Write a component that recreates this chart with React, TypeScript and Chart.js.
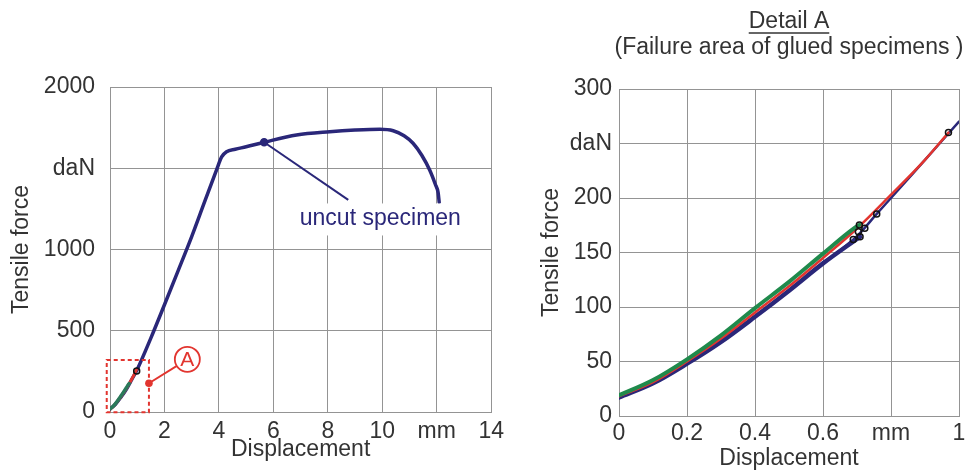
import React, { useEffect, useRef } from "react";
import { Chart, registerables } from "chart.js";

Chart.register(...registerables);

const FONT_FAMILY = "'Liberation Sans', Arial, Helvetica, sans-serif";
const NAVY = "#2a2779";
const RED = "#e2352f";
const GREEN = "#1f8a4c";
const GRID = "#949494";
const TEXT = "#333333";

// ---------- Left chart: full tensile test (mm / daN) ----------
const leftXTickLabels = ["0", "2", "4", "6", "8", "10", "mm", "14"];
const leftYTickLabels = ["0", "500", "1000", "daN", "2000"];

const uncutX = [0, 0.2, 0.4, 0.6, 0.8, 1.0, 1.5, 2.0, 2.5, 3.0, 3.5, 3.91, 4.1, 4.28, 4.6, 5.0, 5.66, 6.85, 8.07, 9.0, 9.91, 10.4, 10.8, 11.13, 11.45, 11.74, 11.95, 12.05, 12.09];
const uncutY = [18, 48, 91, 140, 200, 262, 455, 660, 868, 1079, 1305, 1489, 1570, 1602, 1617, 1632, 1660, 1705, 1725, 1735, 1740, 1731, 1700, 1654, 1580, 1489, 1400, 1350, 1290];

const leftMarkX = [0.98];
const leftMarkY = [252];
const uncutMarkX = [5.66];
const uncutMarkY = [1660];

// ---------- Right chart: Detail A ----------
const rightXTickLabels = ["0", "0.2", "0.4", "0.6", "mm", "1"];
const rightYTickLabels = ["0", "50", "100", "150", "200", "daN", "300"];

const uncutDetailX = [0, 0.1, 0.2, 0.3, 0.4, 0.5, 0.6, 0.7, 0.758, 0.8, 0.9, 1.0];
const uncutDetailY = [17, 30, 48, 68, 91, 115, 140, 165, 185.4, 200, 235, 270];

const gluedNavyX = [0, 0.1, 0.2, 0.3, 0.4, 0.5, 0.6, 0.709];
const gluedNavyY = [17, 30, 48, 68, 91, 115, 140, 164.5];

const gluedRedX = [0, 0.1, 0.2, 0.3, 0.4, 0.5, 0.6, 0.7, 0.8, 0.9, 0.969];
const gluedRedY = [18, 31, 50, 71, 95, 119, 145, 172, 203, 235, 260];

const gluedGreenX = [0, 0.1, 0.2, 0.3, 0.4, 0.5, 0.6, 0.69, 0.707];
const gluedGreenY = [19, 33, 52, 74, 99, 123, 149, 172, 175.3];

const failX = [0.689, 0.704, 0.707, 0.709, 0.723, 0.758, 0.969];
const failY = [162, 169, 175.3, 164.5, 172.2, 185.4, 260];

// ---------- Annotation anchors (data coordinates) ----------
const boxX = [-0.12, 1.43];
const boxY = [-2, 320];
const calloutDot = [1.43, 177];
const calloutCircle = [2.84, 324];
const uncutLeader = [5.66, 1660, 8.75, 1305];
const uncutLabelPos = [6.97, 1191];

const pts = (xs: number[], ys: number[]) => xs.map((x, i) => ({ x, y: ys[i] }));

// Chart.js draws the first dataset on top, so datasets are listed top-most first.
function lineDs(label: string, xs: number[], ys: number[], color: string, width: number) {
  return {
    label,
    data: pts(xs, ys),
    borderColor: color,
    backgroundColor: color,
    borderWidth: width,
    pointRadius: 0,
    fill: false,
    cubicInterpolationMode: "monotone" as const,
    borderCapStyle: "round" as const,
  };
}

function markDs(label: string, xs: number[], ys: number[], border: string, bg: string, r: number) {
  return {
    label,
    data: pts(xs, ys),
    showLine: false,
    borderColor: border,
    backgroundColor: bg,
    pointBorderColor: border,
    pointBackgroundColor: bg,
    pointBorderWidth: 1.5,
    pointRadius: r,
  };
}

function axisFont(size: number) {
  return { family: FONT_FAMILY, size };
}

const leftAnnotations = {
  id: "leftAnnotations",
  afterDatasetsDraw(chart: any) {
    const { ctx, scales } = chart;
    const x = scales.x;
    const y = scales.y;
    const px = (v: number) => x.getPixelForValue(v);
    const py = (v: number) => y.getPixelForValue(v);
    ctx.save();
    // dashed detail box
    ctx.strokeStyle = RED;
    ctx.lineWidth = 2;
    ctx.setLineDash([4, 3]);
    ctx.strokeRect(px(boxX[0]), py(boxY[1]), px(boxX[1]) - px(boxX[0]), py(boxY[0]) - py(boxY[1]));
    ctx.setLineDash([]);
    // callout line + circle "A"
    const dx = px(calloutDot[0]);
    const dy = py(calloutDot[1]);
    const cx = px(calloutCircle[0]);
    const cy = py(calloutCircle[1]);
    const r = 12.5;
    ctx.strokeStyle = RED;
    ctx.lineWidth = 2;
    ctx.beginPath();
    ctx.moveTo(dx, dy);
    ctx.lineTo(cx, cy);
    ctx.stroke();
    ctx.fillStyle = RED;
    ctx.beginPath();
    ctx.arc(dx, dy, 3.8, 0, Math.PI * 2);
    ctx.fill();
    ctx.fillStyle = "#ffffff";
    ctx.beginPath();
    ctx.arc(cx, cy, r, 0, Math.PI * 2);
    ctx.fill();
    ctx.lineWidth = 1.8;
    ctx.stroke();
    ctx.fillStyle = RED;
    ctx.font = `21px ${FONT_FAMILY}`;
    ctx.textAlign = "center";
    ctx.textBaseline = "middle";
    ctx.fillText("A", cx, cy + 1);
    // uncut specimen leader
    ctx.strokeStyle = NAVY;
    ctx.lineWidth = 2;
    ctx.beginPath();
    ctx.moveTo(px(uncutLeader[0]), py(uncutLeader[1]));
    ctx.lineTo(px(uncutLeader[2]), py(uncutLeader[3]));
    ctx.stroke();
    // label with white background
    ctx.font = `23px ${FONT_FAMILY}`;
    const label = "uncut specimen";
    const tw = ctx.measureText(label).width;
    const lx = px(uncutLabelPos[0]);
    const ly = py(uncutLabelPos[1]);
    ctx.fillStyle = "#ffffff";
    ctx.fillRect(lx - 3, ly - 15, tw + 6, 32);
    ctx.fillStyle = NAVY;
    ctx.textAlign = "left";
    ctx.textBaseline = "middle";
    ctx.fillText(label, lx, ly);
    ctx.restore();
  },
};

const rightTitle = {
  id: "rightTitle",
  afterDraw(chart: any) {
    const { ctx } = chart;
    const cx = 264;
    ctx.save();
    ctx.fillStyle = TEXT;
    ctx.font = `23px ${FONT_FAMILY}`;
    ctx.textAlign = "center";
    ctx.textBaseline = "middle";
    const t1 = "Detail A";
    ctx.fillText(t1, cx, 22);
    const w1 = ctx.measureText(t1).width;
    ctx.strokeStyle = TEXT;
    ctx.lineWidth = 1.3;
    ctx.beginPath();
    ctx.moveTo(cx - w1 / 2, 33);
    ctx.lineTo(cx + w1 / 2, 33);
    ctx.stroke();
    ctx.fillText("(Failure area of glued specimens )", cx, 48);
    ctx.restore();
  },
};

function baseOptions(cfg: any) {
  return {
    responsive: false,
    animation: false,
    events: [],
    layout: { padding: cfg.padding },
    plugins: { legend: { display: false }, tooltip: { enabled: false }, title: { display: false } },
    scales: {
      x: {
        type: "linear",
        min: cfg.xMin,
        max: cfg.xMax,
        afterFit: (s: any) => { s.height = cfg.xHeight; },
        ticks: {
          stepSize: cfg.xStep,
          autoSkip: false,
          maxRotation: 0,
          padding: cfg.xTickPad,
          color: TEXT,
          font: axisFont(23),
          callback: (_v: any, i: number) => cfg.xLabels[i],
        },
        grid: { color: GRID, lineWidth: 1, drawTicks: false },
        border: { color: GRID, width: 1 },
        title: { display: true, text: "Displacement", color: TEXT, font: axisFont(23), padding: { top: 0, bottom: cfg.xTitlePad } },
      },
      y: {
        type: "linear",
        min: cfg.yMin,
        max: cfg.yMax,
        afterFit: (s: any) => { s.width = cfg.yWidth; },
        ticks: {
          stepSize: cfg.yStep,
          autoSkip: false,
          padding: cfg.yTickPad,
          color: TEXT,
          font: axisFont(23),
          callback: (_v: any, i: number) => cfg.yLabels[i],
        },
        grid: { color: GRID, lineWidth: 1, drawTicks: false },
        border: { color: GRID, width: 1 },
        title: { display: true, text: "Tensile force", color: TEXT, font: axisFont(23), padding: { top: cfg.yTitlePad, bottom: 0 } },
      },
    },
  };
}

export default function App() {
  const leftRef = useRef<HTMLCanvasElement | null>(null);
  const rightRef = useRef<HTMLCanvasElement | null>(null);

  useEffect(() => {
    Chart.defaults.font.family = FONT_FAMILY;
    const left = new Chart(leftRef.current as HTMLCanvasElement, {
      type: "line",
      data: {
        datasets: [
          markDs("uncut point", uncutMarkX, uncutMarkY, NAVY, NAVY, 3.5),
          markDs("failure", leftMarkX, leftMarkY, "#111111", "rgba(255,255,255,0)", 3),
          lineDs("glued green", gluedGreenX, gluedGreenY, "#2a7a5a", 3.5),
          lineDs("glued red", gluedRedX, gluedRedY, RED, 3),
          lineDs("uncut specimen", uncutX, uncutY, NAVY, 3.5),
        ] as any,
      },
      options: baseOptions({
        padding: { top: 87, right: 18, left: 0, bottom: 0 },
        xMin: 0, xMax: 14, xStep: 2, xHeight: 60, xTickPad: 6, xTitlePad: 9, xLabels: leftXTickLabels,
        yMin: 0, yMax: 2000, yStep: 500, yWidth: 110, yTickPad: 15, yTitlePad: 8, yLabels: leftYTickLabels,
      }) as any,
      plugins: [leftAnnotations],
    });

    const right = new Chart(rightRef.current as HTMLCanvasElement, {
      type: "line",
      data: {
        datasets: [
          markDs("failure", failX, failY, "#111111", "rgba(255,255,255,0)", 3),
          lineDs("glued green", gluedGreenX, gluedGreenY, GREEN, 4),
          lineDs("glued red", gluedRedX, gluedRedY, RED, 2.5),
          lineDs("glued navy", gluedNavyX, gluedNavyY, NAVY, 4.5),
          lineDs("uncut specimen", uncutDetailX, uncutDetailY, NAVY, 2.5),
        ] as any,
      },
      options: baseOptions({
        padding: { top: 89, right: 14, left: 0, bottom: 0 },
        xMin: 0, xMax: 1, xStep: 0.2, xHeight: 56, xTickPad: 4, xTitlePad: 0, xLabels: rightXTickLabels,
        yMin: 0, yMax: 300, yStep: 50, yWidth: 94, yTickPad: 7, yTitlePad: 13, yLabels: rightYTickLabels,
      }) as any,
      plugins: [rightTitle],
    });

    return () => {
      left.destroy();
      right.destroy();
    };
  }, []);

  return (
    <div style={{ position: "fixed", left: 0, top: 0, width: 973, height: 472, background: "#ffffff", overflow: "hidden" }}>
      <canvas ref={leftRef} width={510} height={472} style={{ position: "absolute", left: 0, top: 0, width: 510, height: 472 }} />
      <canvas ref={rightRef} width={448} height={472} style={{ position: "absolute", left: 525, top: 0, width: 448, height: 472 }} />
    </div>
  );
}
